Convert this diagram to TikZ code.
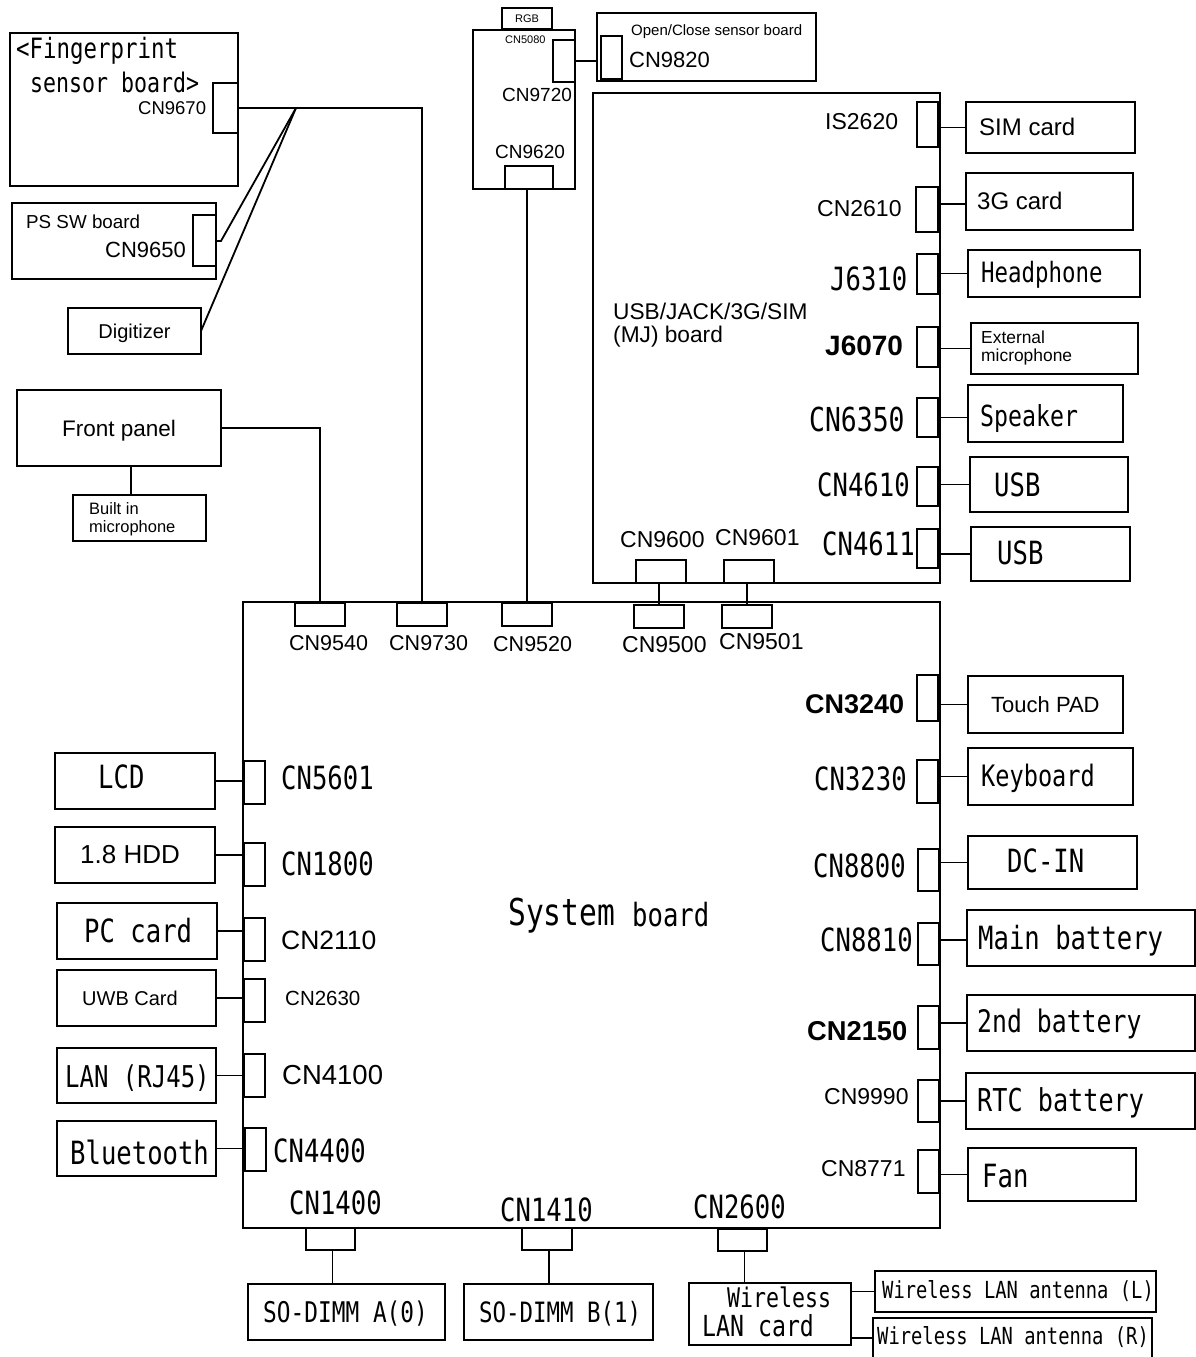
\documentclass[tikz,border=0pt]{standalone}
\usepackage{fontspec}
\setmainfont{Liberation Sans}
\newfontfamily\gothfont[FakeStretch=0.8]{DejaVu Sans Mono}
\usetikzlibrary{positioning}
\tikzset{
  board/.style 2 args={
    draw, line width=1.7pt, anchor=north west, inner sep=0pt, outer sep=0pt,
    minimum width=#1pt, minimum height=#2pt
  },
  wire/.style={line width=1.8pt},
  txt/.style={anchor=west, inner sep=0pt, align=left, font=\fontsize{#1}{#1}\selectfont},
  goth/.style={anchor=west, inner sep=0pt, align=left, font=\gothfont\fontsize{#1}{#1}\selectfont},
  boldtxt/.style={anchor=west, inner sep=0pt, font=\bfseries\fontsize{#1}{#1}\selectfont}
}
\begin{document}
\begin{tikzpicture}[x=1pt,y=-1pt]
  \useasboundingbox (0,0) rectangle (1196,1357);
  % upper left boards
  \node[board={228}{153}] (fpboard) at (10,33) {};
  \node[board={25}{50}] (cn9670) at (213,83) {};
  \node[goth=28] (fptitle) at (16,51) {<Fingerprint};
  \node[goth=27] (fpsub) at (30,82) {sensor board>};
  \node[txt=18.5] (lbl9670) at (138,108) {CN9670};
  \node[board={204}{76}] (psboard) at (12,203) {};
  \node[board={23}{51}] (cn9650) at (193,215) {};
  \node[txt=18.8] (pstitle) at (26,222) {PS SW board};
  \node[txt=22] (lbl9650) at (105,250) {CN9650};
  \node[board={133}{46}, text depth=0pt, font=\fontsize{20}{20}\selectfont] (digitizer) at (68,308) {Digitizer};
  \node[board={204}{76}, text depth=0pt, font=\fontsize{22.5}{22.5}\selectfont] (frontpanel) at (17,390) {Front panel};
  \node[board={133}{46}] (micbox) at (73,495) {};
  \node[txt=16.5] (mictext) at (89,519) {Built in\\[1pt]microphone};
  % RGB board and sensor
  \node[board={50}{21}, font=\fontsize{11}{11}\selectfont] (rgb) at (502,8) {RGB};
  \node[board={102}{159}] (rgbboard) at (473,30) {};
  \node[txt=11] (lbl5080) at (505,40) {CN5080};
  \node[board={22}{42}] (cn9720) at (553,40) {};
  \node[txt=19] (lbl9720) at (502,95) {CN9720};
  \node[txt=19] (lbl9620) at (495,152) {CN9620};
  \node[board={48}{23}] (cn9620) at (505,166) {};
  \node[board={219}{68}] (openboard) at (597,13) {};
  \node[board={21}{43}] (cn9820) at (601,36) {};
  \node[txt=15] (opentitle) at (631,32) {Open/Close sensor board};
  \node[txt=22] (lbl9820) at (629,60) {CN9820};
  % MJ board
  \node[board={347}{490}] (mjboard) at (593,93) {};
  \node[txt=22.7] (mjtitle) at (613,325) {USB/JACK/3G/SIM\\[0pt](MJ) board};
  \node[board={21}{45}] (is2620) at (917,102) {};
  \node[board={22}{45}] (cn2610) at (916,187) {};
  \node[board={21}{40}] (j6310) at (917,254) {};
  \node[board={21}{40}] (j6070) at (917,327) {};
  \node[board={21}{39}] (cn6350) at (917,398) {};
  \node[board={21}{39}] (cn4610) at (917,467) {};
  \node[board={21}{39}] (cn4611) at (917,529) {};
  \node[txt=23] (lbl2620) at (825,122) {IS2620};
  \node[txt=23] (lbl2610) at (817,209) {CN2610};
  \node[goth=32] (lbl6310) at (830,279) {J6310};
  \node[boldtxt=28] (lbl6070) at (825,346) {J6070};
  \node[goth=33] (lbl6350) at (809,419) {CN6350};
  \node[goth=32] (lbl4610) at (817,485) {CN4610};
  \node[goth=32] (lbl4611) at (822,544) {CN4611};
  \node[board={169}{51}] (simcard) at (966,102) {};
  \node[board={167}{57}] (card3g) at (966,173) {};
  \node[board={172}{47}] (headphone) at (968,250) {};
  \node[board={167}{51}] (extmic) at (971,323) {};
  \node[board={155}{57}] (speaker) at (968,385) {};
  \node[board={158}{55}] (usba) at (970,457) {};
  \node[board={159}{54}] (usbb) at (971,527) {};
  \node[txt=24] (simtext) at (979,127) {SIM card};
  \node[txt=24] (text3g) at (977,201) {3G card};
  \node[goth=28] (headtext) at (981,275) {Headphone};
  \node[txt=17.4] (mictext2) at (981,348) {External\\[0pt]microphone};
  \node[goth=29] (speaktext) at (980,418) {Speaker};
  \node[goth=32] (usbatext) at (994,485) {USB};
  \node[goth=32] (usbbtext) at (997,553) {USB};
  \node[board={50}{23}] (cn9600) at (636,560) {};
  \node[board={50}{23}] (cn9601) at (724,560) {};
  \node[txt=23] (lbl9600) at (620,540) {CN9600};
  \node[txt=23] (lbl9601) at (715,538) {CN9601};
  % system board
  \node[board={697}{626}] (sysboard) at (243,602) {};
  \node[goth=37] (systext) at (508,916) {System};
  \node[goth=32] (boardtext) at (632,915) {board};
  \node[board={50}{23}] (cn9540) at (295,603) {};
  \node[board={50}{23}] (cn9730) at (397,603) {};
  \node[board={50}{23}] (cn9520) at (502,603) {};
  \node[board={50}{23}] (cn9500) at (634,605) {};
  \node[board={50}{23}] (cn9501) at (722,605) {};
  \node[txt=21.5] (lbl9540) at (289,643) {CN9540};
  \node[txt=21.5] (lbl9730) at (389,643) {CN9730};
  \node[txt=21.5] (lbl9520) at (493,644) {CN9520};
  \node[txt=23] (lbl9500) at (622,645) {CN9500};
  \node[txt=23] (lbl9501) at (719,642) {CN9501};
  % system board, right side
  \node[board={21}{46}] (cn3240) at (917,675) {};
  \node[board={21}{43}] (cn3230) at (917,760) {};
  \node[board={21}{42}] (cn8800) at (918,849) {};
  \node[board={21}{42}] (cn8810) at (918,923) {};
  \node[board={21}{43}] (cn2150) at (918,1006) {};
  \node[board={21}{42}] (cn9990) at (918,1080) {};
  \node[board={21}{43}] (cn8771) at (918,1150) {};
  \node[boldtxt=27] (lbl3240) at (805,704) {CN3240};
  \node[goth=32] (lbl3230) at (814,779) {CN3230};
  \node[goth=32] (lbl8800) at (813,866) {CN8800};
  \node[goth=32] (lbl8810) at (820,940) {CN8810};
  \node[boldtxt=27.3] (lbl2150) at (807,1031) {CN2150};
  \node[txt=23] (lbl9990) at (824,1097) {CN9990};
  \node[txt=23] (lbl8771) at (821,1169) {CN8771};
  \node[board={155}{57}] (touchpad) at (968,676) {};
  \node[board={165}{57}] (keyboard) at (968,748) {};
  \node[board={169}{53}] (dcin) at (968,836) {};
  \node[board={228}{56}] (mainbat) at (967,910) {};
  \node[board={228}{56}] (secondbat) at (967,995) {};
  \node[board={229}{56}] (rtcbat) at (966,1073) {};
  \node[board={168}{53}] (fan) at (968,1148) {};
  \node[txt=22] (touchtext) at (991,705) {Touch PAD};
  \node[goth=29.5] (keytext) at (981,778) {Keyboard};
  \node[goth=32] (dctext) at (1007,861) {DC-IN};
  \node[goth=32] (maintext) at (978,941) {Main battery};
  \node[goth=31] (secondtext) at (977,1024) {2nd battery};
  \node[goth=31.5] (rtctext) at (977,1103) {RTC battery};
  \node[goth=32] (fantext) at (982,1176) {Fan};
  % system board, left side
  \node[board={160}{56}] (lcd) at (55,753) {};
  \node[board={160}{56}] (hdd) at (55,827) {};
  \node[board={160}{56}] (pccard) at (57,903) {};
  \node[board={159}{56}] (uwb) at (57,970) {};
  \node[board={159}{55}] (lan) at (57,1048) {};
  \node[board={159}{55}] (bluetooth) at (57,1121) {};
  \node[goth=32] (lcdtext) at (98,777) {LCD};
  \node[txt=26] (hddtext) at (80,855) {1.8 HDD};
  \node[goth=32] (pctext) at (84,931) {PC card};
  \node[txt=20] (uwbtext) at (82,998) {UWB Card};
  \node[goth=30] (lantext) at (65,1078) {LAN (RJ45)};
  \node[goth=32] (bttext) at (70,1152) {Bluetooth};
  \node[board={21}{43}] (cn5601) at (244,761) {};
  \node[board={21}{43}] (cn1800) at (244,843) {};
  \node[board={21}{43}] (cn2110) at (244,918) {};
  \node[board={21}{43}] (cn2630) at (244,979) {};
  \node[board={21}{43}] (cn4100) at (244,1054) {};
  \node[board={21}{43}] (cn4400) at (245,1128) {};
  \node[goth=32] (lbl5601) at (281,778) {CN5601};
  \node[goth=32] (lbl1800) at (281,864) {CN1800};
  \node[txt=26.5] (lbl2110) at (281,940) {CN2110};
  \node[txt=20.5] (lbl2630) at (285,998) {CN2630};
  \node[txt=27.5] (lbl4100) at (282,1075) {CN4100};
  \node[goth=32] (lbl4400) at (273,1151) {CN4400};
  % system board, bottom
  \node[board={49}{22}] (cn1400) at (306,1228) {};
  \node[board={50}{22}] (cn1410) at (522,1228) {};
  \node[board={49}{22}] (cn2600) at (718,1229) {};
  \node[goth=32] (lbl1400) at (289,1203) {CN1400};
  \node[goth=32] (lbl1410) at (500,1210) {CN1410};
  \node[goth=32] (lbl2600) at (693,1207) {CN2600};
  \node[board={197}{56}] (dimma) at (248,1284) {};
  \node[board={189}{56}] (dimmb) at (464,1284) {};
  \node[board={162}{62}] (wlancard) at (689,1283) {};
  \node[board={281}{41}] (antl) at (875,1271) {};
  \node[board={279}{40}] (antr) at (873,1318) {};
  \node[goth=28.5] (dimmatext) at (263,1314) {SO-DIMM A(0)};
  \node[goth=28] (dimmbtext) at (479,1314) {SO-DIMM B(1)};
  \node[goth=27] (wltext) at (727,1297) {Wireless};
  \node[goth=29] (cardtext) at (702,1326) {LAN card};
  \node[goth=23.5] (antltext) at (882,1291) {Wireless LAN antenna (L)};
  \node[goth=23.5] (antrtext) at (877,1337) {Wireless LAN antenna (R)};
  % connectors
  \coordinate (fpjoin) at (296,108);
  \coordinate (psbend) at (221,241);
  \draw[wire] (cn9670.east) -| (cn9730.north);
  \draw[wire] (fpjoin) -- (psbend) -- (cn9650.east |- psbend);
  \draw[wire] (fpjoin) -- (digitizer.east);
  \draw[wire] (frontpanel.east) -| (cn9540.north);
  \draw[wire] ([xshift=-8.5pt]micbox.north) -- ([xshift=-8.5pt]micbox.north |- frontpanel.south);
  \draw[wire] (cn9620.south -| cn9520.north) -- (cn9520.north);
  \draw[wire] (cn9720.east) -- (cn9720.east -| openboard.west);
  \draw[wire] (cn9600.south -| cn9500.north) -- (cn9500.north);
  \draw[wire] (cn9601.south -| cn9501.north) -- (cn9501.north);
  \draw[wire] (mjboard.east |- simcard.west) -- (simcard.west);
  \draw[wire] ([yshift=-2.5pt]mjboard.east |- card3g.west) -- ([yshift=-2.5pt]card3g.west);
  \draw[wire] (mjboard.east |- headphone.west) -- (headphone.west);
  \draw[wire] (mjboard.east |- extmic.west) -- (extmic.west);
  \draw[wire] (cn6350.east) -- (cn6350.east -| speaker.west);
  \draw[wire] (mjboard.east |- usba.west) -- (usba.west);
  \draw[wire] (mjboard.east |- usbb.west) -- (usbb.west);
  \draw[wire] (sysboard.east |- touchpad.west) -- (touchpad.west);
  \draw[wire] (sysboard.east |- keyboard.west) -- (keyboard.west);
  \draw[wire] (sysboard.east |- dcin.west) -- (dcin.west);
  \draw[wire] ([yshift=-2pt]sysboard.east |- mainbat.west) -- ([yshift=-2pt]mainbat.west);
  \draw[wire] (sysboard.east |- secondbat.west) -- (secondbat.west);
  \draw[wire] (sysboard.east |- rtcbat.west) -- (rtcbat.west);
  \draw[wire] (sysboard.east |- fan.west) -- (fan.west);
  \draw[wire] (lcd.east) -- (lcd.east -| sysboard.west);
  \draw[wire] (hdd.east) -- (hdd.east -| sysboard.west);
  \draw[wire] (pccard.east) -- (pccard.east -| sysboard.west);
  \draw[wire] (uwb.east) -- (uwb.east -| sysboard.west);
  \draw[wire] (lan.east) -- (lan.east -| sysboard.west);
  \draw[wire] (bluetooth.east) -- (bluetooth.east -| cn4400.west);
  \draw[wire] ([xshift=2pt]cn1400.south) -- ([xshift=2pt]cn1400.south |- dimma.north);
  \draw[wire] ([xshift=2pt]cn1410.south) -- ([xshift=2pt]cn1410.south |- dimmb.north);
  \draw[wire] ([xshift=2pt]cn2600.south) -- ([xshift=2pt]cn2600.south |- wlancard.north);
  \draw[wire] (wlancard.east |- antl.west) -- (antl.west);
  \draw[wire] (wlancard.east |- antr.west) -- (antr.west);
\end{tikzpicture}
\end{document}
